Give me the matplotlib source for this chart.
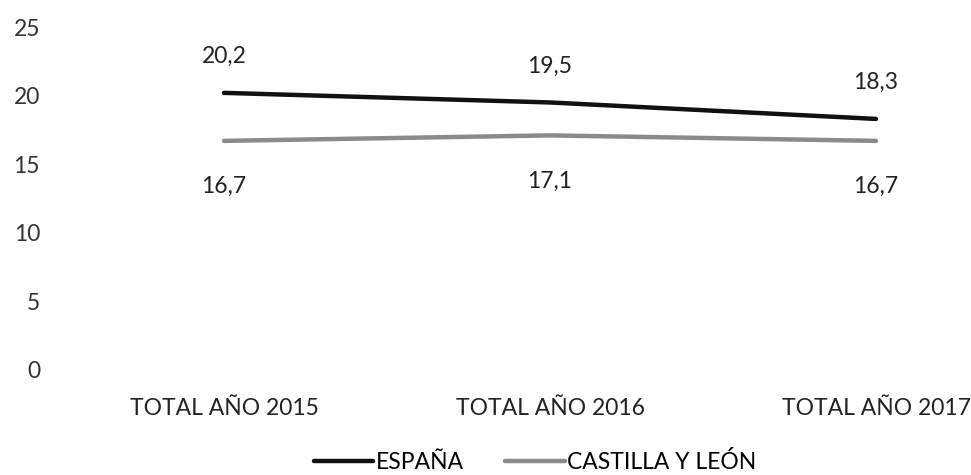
import matplotlib
matplotlib.use("Agg")
import matplotlib.pyplot as plt

categories = ["TOTAL AÑO 2015", "TOTAL AÑO 2016", "TOTAL AÑO 2017"]
espana = [20.2, 19.5, 18.3]
castilla = [16.7, 17.1, 16.7]
yticks = [0, 5, 10, 15, 20, 25]

plt.rcParams['font.family'] = ['Lato', 'DejaVu Sans']
W, H = 971, 475
fig = plt.figure(figsize=(W / 100, H / 100), dpi=100)
left_px, right_px = 40, 971
top_px, bottom_px = 27, 370
ax = fig.add_axes([left_px / W, 1 - bottom_px / H, (right_px - left_px) / W, (bottom_px - top_px) / H])

FS = 16.5
x = list(range(len(categories)))
ax.plot(x, espana, color="#111111", lw=3.2, solid_capstyle="round", label="ESPAÑA")
ax.plot(x, castilla, color="#8a8a8a", lw=3.2, solid_capstyle="round", label="CASTILLA Y LEÓN")

for xi, v in zip(x, espana):
    ax.annotate(f"{v:.1f}".replace(".", ","), (xi, v), xytext=(0, 26), textcoords="offset points",
                ha="center", va="center", fontsize=FS, color="#222222")
for xi, v in zip(x, castilla):
    ax.annotate(f"{v:.1f}".replace(".", ","), (xi, v), xytext=(0, -33), textcoords="offset points",
                ha="center", va="center", fontsize=FS, color="#222222")

px_per_unit = 326
ax.set_xlim(-(224 - left_px) / px_per_unit, 2 + (right_px - 876) / px_per_unit)
ax.set_ylim(0, 25)
ax.set_yticks(yticks)
ax.set_yticklabels([str(t) for t in yticks], fontsize=FS, color="#333333")
ax.set_xticks(x)
ax.set_xticklabels(categories, fontsize=FS, color="#222222")
ax.tick_params(axis="both", length=0)
ax.tick_params(axis="y", pad=0)
ax.tick_params(axis="x", pad=20)
for s in ax.spines.values():
    s.set_visible(False)

fig.legend(loc="center", bbox_to_anchor=(535 / W, 1 - 462 / H), ncol=2, frameon=False,
           fontsize=FS, handlelength=2.6, handletextpad=0.1, columnspacing=1.8)

fig.savefig("out.png", dpi=100)
